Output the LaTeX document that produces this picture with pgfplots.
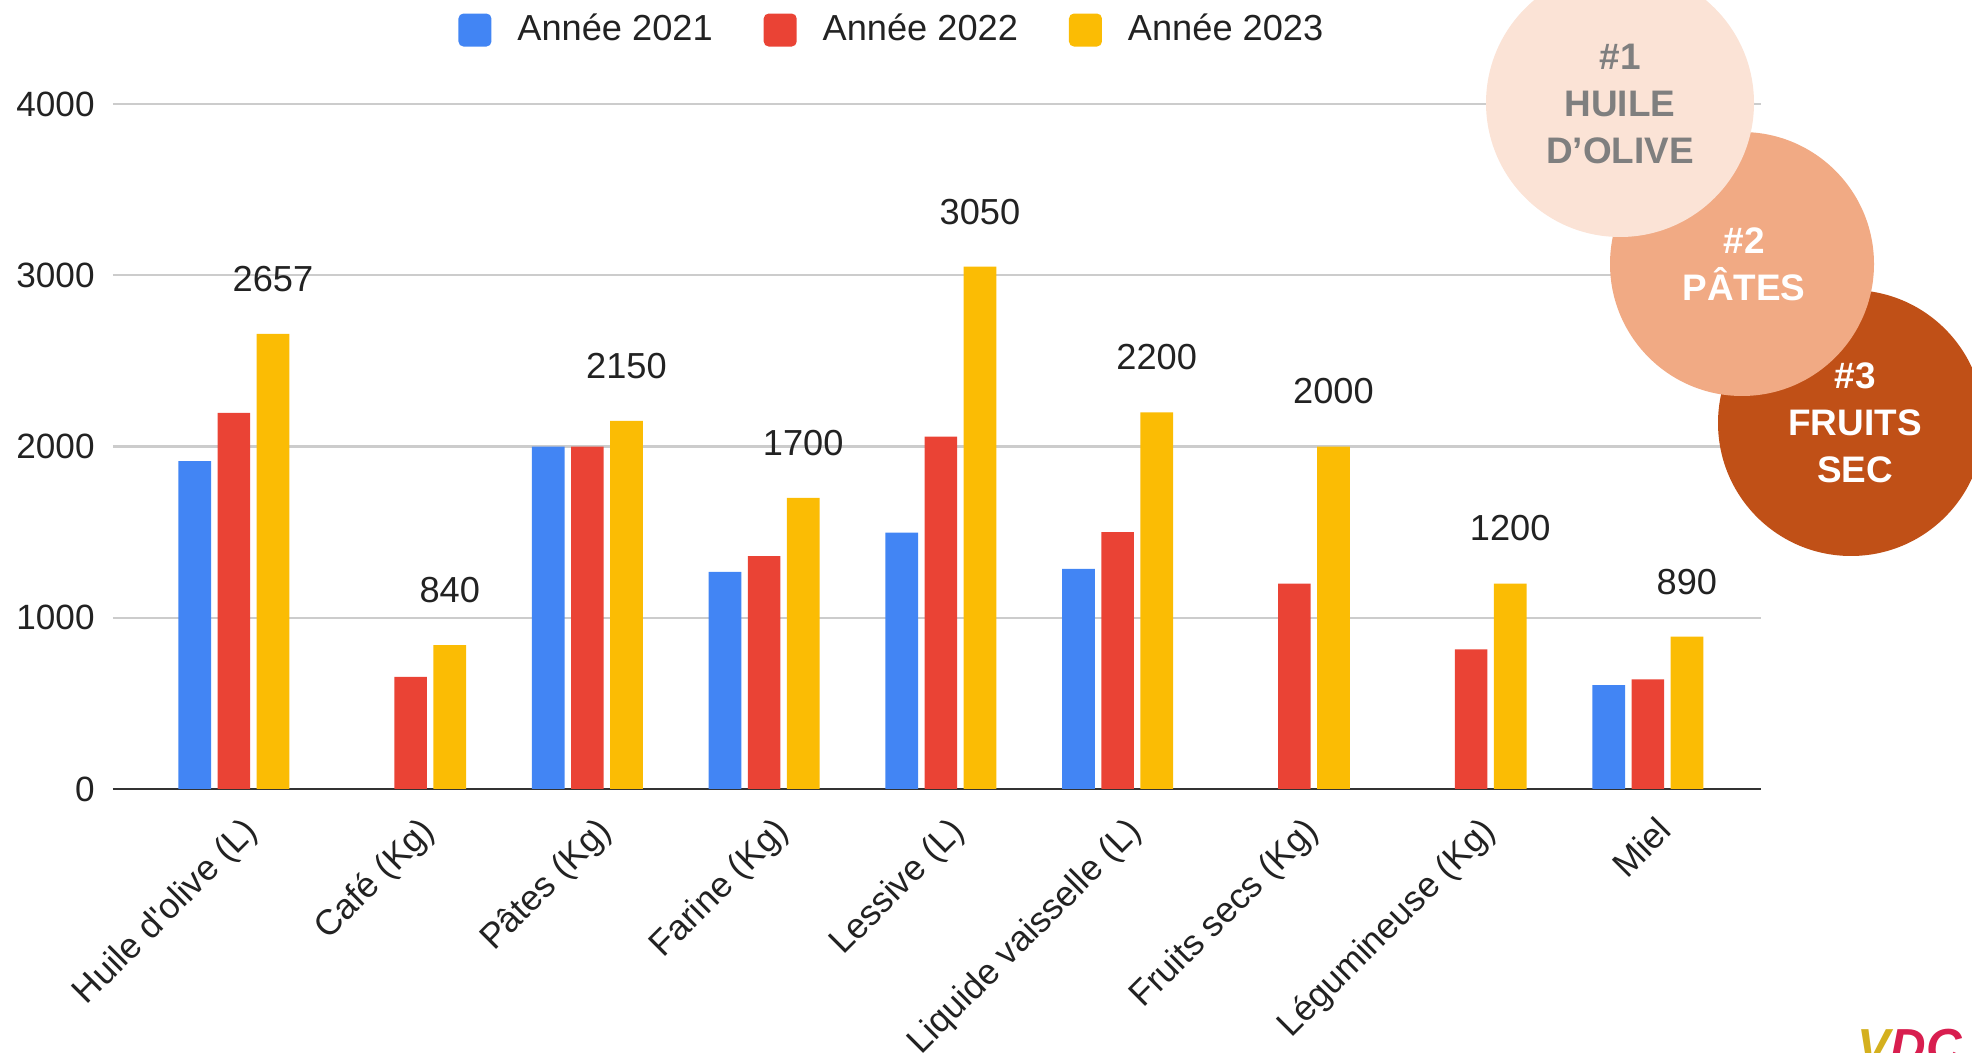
\documentclass[border=0pt]{standalone}
\usepackage{fontspec}
\setmainfont{Liberation Sans}
\usepackage{pgfplots}
\pgfplotsset{compat=1.18}
\definecolor{cBlue}{HTML}{4285F4}
\definecolor{cRed}{HTML}{EA4335}
\definecolor{cYellow}{HTML}{FBBC04}
\definecolor{cGrid}{HTML}{CCCCCC}
\definecolor{cAxis}{HTML}{333333}
\definecolor{cText}{HTML}{222222}
\definecolor{cOne}{HTML}{FBE3D6}
\definecolor{cTwo}{HTML}{F1AA84}
\definecolor{cThree}{HTML}{C05017}
\definecolor{cOneText}{HTML}{7F7F7F}
\definecolor{logoY}{HTML}{D4B01E}
\definecolor{logoR}{HTML}{D81E4F}
\begin{document}
\begin{tikzpicture}
\begin{axis}[
  at={(11.3mm,26.3mm)}, anchor=south west,
  scale only axis, width=164.8mm, height=68.5mm,
  ybar, bar width=0.185,
  xmin=-0.684, xmax=8.64, ymin=0, ymax=4000,
  clip=false,
  axis line style={draw=none},
  major tick length=0pt,
  ytick={0,1000,2000,3000,4000},
  ymajorgrids,
  grid style={cGrid, line width=0.6pt},
  extra y ticks={0}, extra y tick labels={},
  extra y tick style={grid style={cAxis, line width=0.8pt}},
  xtick={0,1,2,3,4,5,6,7,8},
  xticklabels={Huile d\textquotesingle olive (L), Café (Kg), Pâtes (Kg), Farine (Kg), Lessive (L), Liquide vaisselle (L), Fruits secs (Kg), Légumineuse (Kg), Miel},
  xticklabel style={rotate=45, anchor=north east, font=\fontsize{10.1}{12}\selectfont, text=cText, xshift=-0.1mm, yshift=-1.1mm},
  yticklabel style={font=\fontsize{10}{12}\selectfont, text=cText, xshift=-0.6mm},
  /pgf/number format/.cd, 1000 sep={}, assume math mode=true, /pgfplots/.cd,
  legend style={at={(0.472,1.108)}, anchor=center, draw=none, fill=none,
    legend columns=3, font=\fontsize{10.3}{12}\selectfont, text=cText,
    nodes={inner sep=0pt},
    /tikz/every odd column/.append style={column sep=2.6mm},
    /tikz/every even column/.append style={column sep=5.1mm}},
  legend image code/.code={\fill[#1,draw=none,rounded corners=0.5mm] (0mm,-1.65mm) rectangle (3.3mm,1.65mm);},
]
\addplot[fill=cBlue, draw=none, bar shift=-0.221] coordinates {(0,1915) (2,2000) (3,1268) (4,1497) (5,1285) (8,607)};
\addplot[fill=cRed, draw=none, bar shift=0] coordinates {(0,2197) (1,655) (2,2000) (3,1360) (4,2058) (5,1500) (6,1200) (7,815) (8,640)};
\addplot[fill=cYellow, draw=none, bar shift=0.221,
  nodes near coords,
  every node near coord/.append style={anchor=center, yshift=5.5mm, font=\fontsize{10.3}{12}\selectfont, text=cText}]
  coordinates {(0,2657) (1,840) (2,2150) (3,1700) (4,3050) (5,2200) (6,2000) (7,1200) (8,890)};
\legend{Année 2021, Année 2022, Année 2023}
\end{axis}
\begin{scope}[x=0.1mm, y=-0.1mm, shift={(0,105.2mm)}]
\fill[cThree] (1851,423) circle (13.3mm);
\fill[cTwo] (1742,264) circle (13.2mm);
\fill[cOne] (1620,103) circle (13.4mm);
\node[align=center, text=cOneText, font=\bfseries\fontsize{10.5}{13.4}\selectfont] at (1620,104) {\#1\\HUILE\\D’OLIVE};
\node[align=center, text=white, font=\bfseries\fontsize{10.5}{13.4}\selectfont] at (1744,264) {\#2\\PÂTES};
\node[align=center, text=white, font=\bfseries\fontsize{10.5}{13.4}\selectfont] at (1855,423) {\#3\\FRUITS\\SEC};
\node[anchor=north west, inner sep=0pt, font=\bfseries\itshape\fontsize{14}{14}\selectfont] at (1857,1028) {\textcolor{logoY}{V}\textcolor{logoR}{DC}};
\pgfresetboundingbox
\path[use as bounding box] (0,0) rectangle (1972,1052);
\end{scope}
\end{tikzpicture}
\end{document}
